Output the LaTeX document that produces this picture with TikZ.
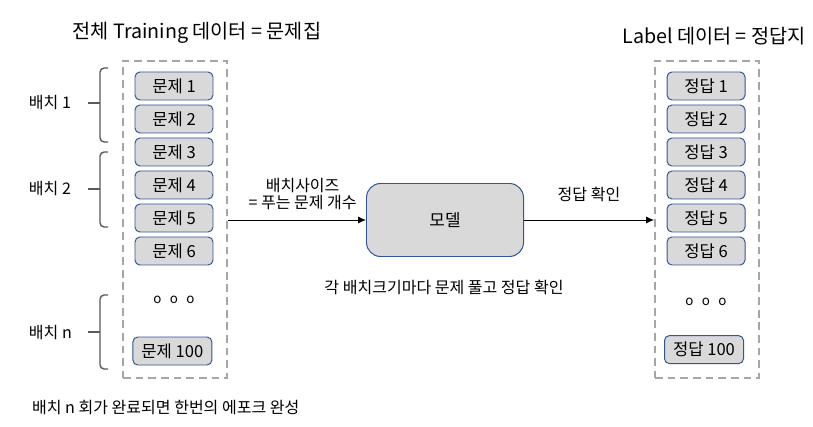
\documentclass[tikz,border=0pt]{standalone}
\usepackage{fontspec}
\setmainfont{Noto Sans CJK KR}
\usepackage{xcolor}
\usetikzlibrary{arrows.meta,positioning,calc}
\definecolor{itemfill}{HTML}{D9D9D9}
\definecolor{itemline}{HTML}{2F5597}
\definecolor{setline}{HTML}{A6A6A6}
\definecolor{braceline}{HTML}{595959}

\begin{document}
\begin{tikzpicture}[font=\fontsize{11.4pt}{13pt}\selectfont,item/.style={draw=itemline,line width=0.7pt,rounded corners=3.5pt,fill=itemfill,inner sep=0pt,minimum width=1.95cm,minimum height=0.7cm,font=\fontsize{11.8pt}{13pt}\selectfont},set/.style={draw=setline,line width=1.4pt,dash pattern=on 5.5pt off 3.5pt,minimum width=2.6cm,minimum height=7.925cm,inner sep=0pt},arr/.style={-{Latex[length=2mm,width=1.8mm]},line width=0.7pt},bracket/.style={draw=braceline,line width=1pt,rounded corners=3pt}]
\useasboundingbox (0,0) rectangle (20.325,10.65);
% training data = problem set
\node[font=\fontsize{14pt}{16pt}\selectfont] (ttitle) at (4.925,9.825) {전체 Training 데이터 = 문제집};
\node[set] (lset) at (4.375,5.1625) {};
\node[item] (q1) at (4.35,8.5) {문제 1};
\node[item] (q2) at (4.35,7.675) {문제 2};
\node[item] (q3) at (4.35,6.85) {문제 3};
\node[item] (q4) at (4.35,6.025) {문제 4};
\node[item] (q5) at (4.35,5.2) {문제 5};
\node[item] (q6) at (4.35,4.375) {문제 6};
\node[font=\fontsize{9.5pt}{12pt}\selectfont] (qdots) at (4.35,3.15) {o\hspace{6pt}o\hspace{6pt}o};
\node[item,minimum width=1.975cm] (q100) at (4.31,1.875) {문제 100};
% batches
\draw[bracket] (2.7,8.95) -| (2.5,8.075) |- (2.7,7.1); \draw[bracket] (2.5,8.075) -- (2.2,8.075);
\draw[bracket] (2.7,6.85) -| (2.5,5.925) |- (2.7,4.975); \draw[bracket] (2.5,5.925) -- (2.2,5.925);
\draw[bracket] (2.7,3.275) -| (2.5,2.35) |- (2.7,1.425); \draw[bracket] (2.5,2.35) -- (2.2,2.35);
\node[anchor=west] (b1) at (0.6,8.075) {배치 1};
\node[anchor=west] (b2) at (0.6,5.925) {배치 2};
\node[anchor=west] (bn) at (0.6,2.35) {배치 n};
% model
\node[draw=itemline,line width=0.7pt,rounded corners=10pt,fill=itemfill,minimum width=3.925cm,minimum height=1.825cm,font=\fontsize{12pt}{14pt}\selectfont] (model) at (11.125,5.15) {모델};
\draw[arr] (lset.east|-model.west)--(model.west) node[midway,above=3.5pt,xshift=4pt,align=center,font=\fontsize{11.4pt}{12.2pt}\selectfont] (bsize) {배치사이즈\\= 푸는 문제 개수};
% label data = answer sheet
\node[font=\fontsize{14pt}{16pt}\selectfont] (atitle) at (17.85,9.75) {Label 데이터 = 정답지};
\node[set] (rset) at (17.675,5.1625) {};
\node[item] (a1) at (17.65,8.5) {정답 1};
\node[item] (a2) at (17.65,7.675) {정답 2};
\node[item] (a3) at (17.65,6.85) {정답 3};
\node[item] (a4) at (17.65,6.025) {정답 4};
\node[item] (a5) at (17.65,5.2) {정답 5};
\node[item] (a6) at (17.65,4.375) {정답 6};
\node[font=\fontsize{9.5pt}{12pt}\selectfont] (adots) at (17.65,3.1) {o\hspace{6pt}o\hspace{6pt}o};
\node[item,minimum width=1.975cm] (a100) at (17.6,1.91) {정답 100};
\draw[arr] (model.east)--(rset.west|-model.east) node[midway,above=0.32cm] (check) {정답 확인};
\node (loop) at (11.1,3.475) {각 배치크기마다 문제 풀고 정답 확인};
\node[anchor=west] (epoch) at (0.68,0.45) {배치 n 회가 완료되면 한번의 에포크 완성};
\end{tikzpicture}
\end{document}
